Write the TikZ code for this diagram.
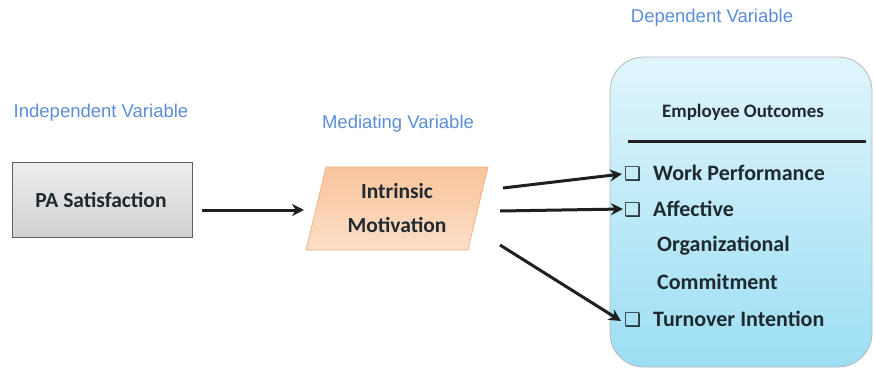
\documentclass[tikz,border=0pt]{standalone}
\usepackage{fontspec}
\setmainfont{Carlito}
\newfontfamily\labfont{Liberation Sans}
\newfontfamily\symfont{DejaVu Sans}
\usetikzlibrary{arrows.meta}
\definecolor{labblue}{HTML}{5B8ED6}
\definecolor{txt}{HTML}{1F2A30}
\tikzset{
  lab/.style={font=\labfont\fontsize{18.5}{22}\selectfont, text=labblue, inner sep=0pt},
  boldtxt/.style={font=\bfseries\fontsize{21.5}{25}\selectfont, text=txt, inner sep=0pt},
  item/.style={font=\bfseries\fontsize{22}{26}\selectfont, text=txt, inner sep=0pt, anchor=west},
  conn/.style={line width=3pt, -{Stealth[length=12pt,width=12pt]}, black!88},
}
\newcommand{\chk}{{\symfont\fontsize{19}{19}\selectfont ❑}}
\begin{document}
\begin{tikzpicture}[x=1pt,y=-1pt]
\useasboundingbox (0,0) rectangle (874,369);
% labels
\node[lab] (iv) at (101,113) {Independent Variable};
\node[lab] (mv) at (398,124) {Mediating Variable};
\node[lab] (dv) at (712,18) {Dependent Variable};
% gray box
\shade[top color=gray!14, bottom color=gray!36, draw=gray!75!black, line width=0.8pt]
  (12,162) rectangle (192,237);
\node[boldtxt] (pa) at (101,200) {PA Satisfaction};
% parallelogram
\shade[top color={rgb,255:red,249;green,196;blue,156}, bottom color={rgb,255:red,252;green,222;blue,198},
  draw={rgb,255:red,240;green,170;blue,120}, line width=0.6pt]
  (326,167) -- (488,167) -- (468,250) -- (306,250) -- cycle;
\node[boldtxt, align=center, font=\bfseries\fontsize{21.5}{34}\selectfont] (mot) at (397,208) {Intrinsic\\Motivation};
% blue rounded box
\shade[top color={rgb,255:red,224;green,245;blue,252}, bottom color={rgb,255:red,156;green,222;blue,244},
  draw=gray!55, line width=0.8pt, rounded corners=34pt]
  (610,57) rectangle (872,367);
\node[font=\bfseries\fontsize{19}{22}\selectfont, text=txt, inner sep=0pt] (eo) at (743,112) {Employee Outcomes};
\draw[line width=3pt, black!88] (628,141) -- (866,141);
\node[item] (wp) at (624,173) {\chk\hspace{12pt}Work Performance};
\node[item] (af) at (624,209) {\chk\hspace{12pt}Affective};
\node[item] (oc) at (657,246) {Organizational};
\node[item] (cm) at (657,282) {Commitment};
\node[item] (ti) at (624,319) {\chk\hspace{12pt}Turnover Intention};
% connectors
\coordinate (a1) at (202,210);
\coordinate (a2) at (304,210);
\draw[conn] (a1) -- (a2);
\coordinate (m1) at (503,188);
\coordinate (m2) at (500,211);
\coordinate (m3) at (500,245);
\draw[conn] (m1) -- ([xshift=-2pt,yshift=-1pt]wp.west);
\draw[conn] (m2) -- ([xshift=-1pt]af.west);
\draw[conn] (m3) -- ([xshift=-3pt,yshift=-2pt]ti.west);
\end{tikzpicture}
\end{document}
